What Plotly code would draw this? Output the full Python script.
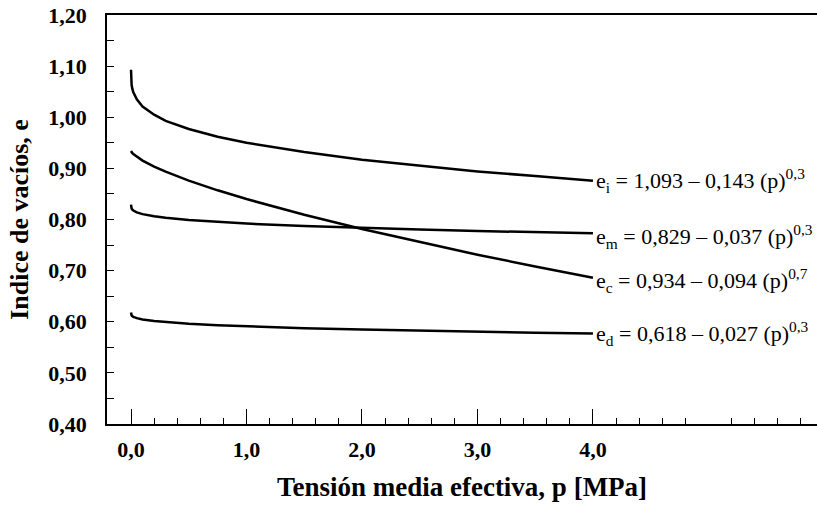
import plotly.graph_objects as go

# Values (tensión media efectiva p [MPa] vs índice de vacíos e)
p_vals = [0.0, 0.001, 0.005, 0.01, 0.02, 0.05, 0.1, 0.2, 0.3, 0.5, 0.75,
          1.0, 1.5, 2.0, 2.5, 3.0, 3.5, 4.0]
e_i = [1.093, 1.075, 1.064, 1.057, 1.049, 1.035, 1.021, 1.005, 0.993, 0.977, 0.962,
       0.950, 0.932, 0.917, 0.905, 0.894, 0.885, 0.876]
e_m = [0.829, 0.824, 0.8215, 0.8197, 0.8176, 0.8139, 0.8105, 0.8062, 0.8032, 0.799, 0.7951,
       0.792, 0.7872, 0.7835, 0.7803, 0.7776, 0.7751, 0.7729]
e_c = [0.934, 0.9333, 0.9317, 0.9303, 0.9279, 0.9225, 0.9152, 0.9035, 0.8935, 0.8761, 0.8571,
       0.840, 0.8092, 0.7813, 0.7555, 0.7311, 0.7081, 0.6859]
e_d = [0.618, 0.6146, 0.6125, 0.6112, 0.6097, 0.607, 0.6045, 0.6013, 0.5992, 0.5961, 0.5932,
       0.591, 0.5875, 0.5848, 0.5825, 0.5805, 0.5787, 0.5771]

series = [e_i, e_m, e_c, e_d]
labels = [
    "e<sub>i</sub> = 1,093 – 0,143 (p)<sup>0,3</sup>",
    "e<sub>m</sub> = 0,829 – 0,037 (p)<sup>0,3</sup>",
    "e<sub>c</sub> = 0,934 – 0,094 (p)<sup>0,7</sup>",
    "e<sub>d</sub> = 0,618 – 0,027 (p)<sup>0,3</sup>",
]
label_yshift = [0, -3, -3, 0]

x_major = [0, 1, 2, 3, 4]
x_major_text = ["0,0", "1,0", "2,0", "3,0", "4,0"]
x_minor = [round(0.2 * k, 1) for k in range(0, 30) if k % 5 != 0]
y_ticks = [0.4, 0.5, 0.6, 0.7, 0.8, 0.9, 1.0, 1.1, 1.2]
y_ticktext = ["0,40", "0,50", "0,60", "0,70", "0,80", "0,90", "1,00", "1,10", "1,20"]

SERIF = "Liberation Serif"

fig = go.Figure()
for ys in series:
    fig.add_trace(go.Scatter(x=p_vals, y=ys, mode="lines",
                             line=dict(color="black", width=2.5),
                             showlegend=False, hoverinfo="skip"))

for ys, lab, ysh in zip(series, labels, label_yshift):
    fig.add_annotation(x=p_vals[-1], y=ys[-1], text=lab, showarrow=False,
                       xanchor="left", yanchor="middle", xshift=1, yshift=ysh,
                       font=dict(family=SERIF, size=22, color="black"))

fig.update_layout(
    width=817, height=510,
    margin=dict(l=107, r=0, t=15, b=86),
    paper_bgcolor="white", plot_bgcolor="white",
    font=dict(family=SERIF, color="black"),
)

fig.update_xaxes(
    range=[-0.208, 5.94], showgrid=False, zeroline=False, automargin=False,
    showline=True, linecolor="black", linewidth=1.5, mirror=True,
    tickmode="array", tickvals=x_major, ticktext=x_major_text,
    ticks="inside", ticklen=15, tickwidth=1.2, tickcolor="black",
    tickfont=dict(family=SERIF, size=22, color="black", weight="bold"),
    ticklabelstandoff=5,
    minor=dict(tickvals=x_minor, ticks="inside", ticklen=6, tickwidth=1, tickcolor="black"),
    title=dict(text="Tensión media efectiva, p [MPa]", standoff=16,
               font=dict(family=SERIF, size=27, color="black", weight="bold")),
)
fig.update_yaxes(
    range=[0.40, 1.20], showgrid=False, zeroline=False, automargin=False,
    showline=True, linecolor="black", linewidth=1.5, mirror=False,
    tickmode="array", tickvals=y_ticks, ticktext=y_ticktext,
    ticks="inside", ticklen=7, tickwidth=1.2, tickcolor="black",
    tickfont=dict(family=SERIF, size=22, color="black", weight="bold"),
    ticklabelstandoff=14,
    minor=dict(dtick=0.05, tick0=0.4, ticks="inside", ticklen=7, tickwidth=1, tickcolor="black"),
    title=dict(text="Indice de vacíos, e", standoff=12,
               font=dict(family=SERIF, size=26, color="black", weight="bold")),
)

fig.write_html("out.html", config={"displayModeBar": False},
               post_script="document.body.style.margin='0';document.body.style.padding='0';")
